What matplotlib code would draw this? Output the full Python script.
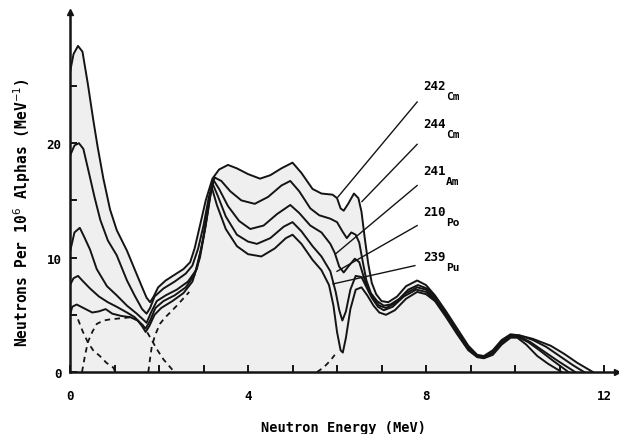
import matplotlib.pyplot as plt

# Neutron spectra from (alpha, n) sources, per 10^6 alphas
e_cm242 = [0.00, 0.08, 0.18, 0.28, 0.40, 0.52, 0.62, 0.75, 0.90, 1.05, 1.28, 1.45, 1.60, 1.72, 1.80,
           1.88, 1.98, 2.15, 2.35, 2.55, 2.70, 2.80, 2.92, 3.05, 3.20, 3.35, 3.55, 3.75, 4.00, 4.27,
           4.50, 4.75, 5.00, 5.20, 5.45, 5.65, 5.90, 6.00, 6.08, 6.15, 6.25, 6.38, 6.48, 6.55, 6.62,
           6.70, 6.78, 6.88, 7.00, 7.15, 7.35, 7.55, 7.80, 8.00, 8.20, 8.45, 8.70, 8.95, 9.15, 9.30,
           9.50, 9.70, 9.90, 10.10, 10.40, 10.80, 11.10, 11.40, 11.75]
y_cm242 = [26.2, 27.8, 28.5, 28.0, 25.2, 22.1, 19.7, 16.9, 14.2, 12.4, 10.6, 9.0, 7.6, 6.5, 6.1,
           6.6, 7.4, 8.0, 8.5, 9.0, 9.6, 10.8, 12.8, 15.0, 16.9, 17.7, 18.1, 17.8, 17.3, 16.9,
           17.2, 17.8, 18.3, 17.4, 16.0, 15.6, 15.5, 15.2, 14.3, 14.1, 14.7, 15.6, 15.2, 14.0, 11.8,
           9.5, 7.8, 6.8, 6.2, 6.1, 6.6, 7.5, 8.0, 7.6, 6.7, 5.3, 3.8, 2.3, 1.5, 1.4,
           1.9, 2.8, 3.3, 3.2, 2.9, 2.3, 1.6, 0.8, 0.0]

e_cm244 = [0.00, 0.10, 0.20, 0.30, 0.42, 0.55, 0.68, 0.85, 1.05, 1.28, 1.45, 1.62, 1.72, 1.80, 1.90,
           2.10, 2.35, 2.60, 2.75, 2.88, 3.00, 3.12, 3.25, 3.40, 3.60, 3.85, 4.15, 4.45, 4.75, 4.95,
           5.15, 5.40, 5.60, 5.85, 6.00, 6.12, 6.22, 6.32, 6.42, 6.50, 6.58, 6.66, 6.76, 6.90, 7.05,
           7.20, 7.40, 7.60, 7.82, 8.02, 8.22, 8.45, 8.70, 8.95, 9.15, 9.30, 9.50, 9.70, 9.90, 10.10,
           10.40, 10.70, 11.00, 11.30, 11.55]
y_cm244 = [18.9, 19.8, 20.0, 19.5, 17.5, 15.3, 13.3, 11.5, 10.2, 8.0, 6.7, 5.5, 5.1, 5.6, 6.6,
           7.3, 7.9, 8.6, 9.3, 10.8, 12.8, 15.3, 17.0, 16.7, 15.8, 15.0, 14.7, 15.3, 16.3, 16.7,
           15.8, 14.3, 13.7, 13.4, 13.1, 12.3, 11.7, 12.2, 12.0, 11.3, 9.6, 8.0, 6.9, 6.2, 5.8,
           5.9, 6.4, 7.2, 7.6, 7.3, 6.5, 5.1, 3.6, 2.2, 1.45, 1.35, 1.8, 2.7, 3.2, 3.2,
           2.8, 2.2, 1.4, 0.6, 0.0]

e_am241 = [0.00, 0.10, 0.22, 0.32, 0.45, 0.60, 0.83, 1.05, 1.28, 1.50, 1.64, 1.72, 1.82, 1.95, 2.15,
           2.40, 2.65, 2.85, 3.00, 3.12, 3.22, 3.35, 3.55, 3.80, 4.05, 4.35, 4.65, 4.95, 5.15, 5.40,
           5.65, 5.85, 5.95, 6.05, 6.15, 6.27, 6.40, 6.50, 6.60, 6.70, 6.82, 6.95, 7.10, 7.30, 7.55,
           7.80, 8.00, 8.20, 8.45, 8.70, 8.95, 9.15, 9.30, 9.50, 9.70, 9.90, 10.10, 10.35, 10.65, 10.95,
           11.35]
y_am241 = [10.5, 12.2, 12.6, 11.8, 10.7, 9.0, 7.5, 6.7, 5.8, 5.1, 4.6, 4.3, 5.2, 6.2, 6.7,
           7.2, 7.9, 9.0, 11.8, 14.9, 16.8, 16.0, 14.5, 13.2, 12.5, 12.8, 13.8, 14.6, 13.9, 12.8,
           12.2, 11.2, 10.4, 9.2, 8.7, 9.3, 9.9, 9.6, 8.3, 7.2, 6.4, 5.8, 5.6, 6.0, 6.9,
           7.4, 7.2, 6.4, 5.0, 3.5, 2.1, 1.4, 1.3, 1.7, 2.6, 3.2, 3.1, 2.6, 1.8, 1.0,
           0.0]

e_po210 = [0.00, 0.08, 0.18, 0.30, 0.45, 0.65, 0.85, 1.05, 1.28, 1.45, 1.58, 1.70, 1.80, 1.92, 2.10,
           2.35, 2.60, 2.80, 2.95, 3.08, 3.20, 3.32, 3.50, 3.75, 4.00, 4.20, 4.50, 4.80, 5.00, 5.20,
           5.45, 5.65, 5.85, 5.97, 6.05, 6.12, 6.20, 6.30, 6.42, 6.55, 6.65, 6.78, 6.92, 7.05, 7.25,
           7.50, 7.78, 8.00, 8.20, 8.45, 8.70, 8.95, 9.15, 9.30, 9.50, 9.70, 9.90, 10.05, 10.30, 10.55,
           10.85, 11.20]
y_po210 = [7.6, 8.2, 8.4, 7.9, 7.3, 6.6, 6.1, 5.7, 5.2, 4.8, 4.3, 3.8, 4.5, 5.6, 6.2,
           6.7, 7.4, 8.5, 10.8, 13.6, 16.5, 15.4, 13.6, 12.0, 11.4, 11.2, 11.7, 12.7, 13.1, 12.3,
           11.0, 10.1, 8.8, 7.0, 5.4, 4.5, 5.3, 7.2, 8.4, 8.3, 7.5, 6.5, 5.7, 5.4, 5.7,
           6.6, 7.2, 7.0, 6.3, 4.9, 3.4, 2.0, 1.35, 1.25, 1.6, 2.5, 3.1, 3.1, 2.6, 1.9,
           1.0, 0.0]

e_pu239 = [0.00, 0.05, 0.15, 0.30, 0.50, 0.65, 0.80, 0.95, 1.15, 1.35, 1.52, 1.62, 1.70, 1.78, 1.90,
           2.05, 2.30, 2.55, 2.75, 2.92, 3.05, 3.18, 3.30, 3.50, 3.75, 4.00, 4.30, 4.60, 4.85, 5.00,
           5.20, 5.45, 5.65, 5.82, 5.92, 6.00, 6.08, 6.13, 6.20, 6.30, 6.42, 6.55, 6.68, 6.82, 6.95,
           7.10, 7.30, 7.55, 7.80, 8.00, 8.20, 8.45, 8.70, 8.95, 9.15, 9.30, 9.50, 9.70, 9.90, 10.05,
           10.25, 10.50, 10.75, 11.05]
y_pu239 = [5.0, 5.7, 5.9, 5.6, 5.2, 5.3, 5.5, 5.1, 4.9, 4.8, 4.5, 4.0, 3.5, 4.0, 5.0,
           5.6, 6.2, 6.9, 7.9, 10.0, 12.8, 16.2, 14.6, 12.5, 11.0, 10.3, 10.1, 10.8, 11.7, 12.0,
           11.2, 9.8, 8.9, 7.6, 5.8, 3.5, 1.9, 1.7, 3.0, 5.5, 7.2, 7.4, 6.7, 5.8, 5.2,
           5.0, 5.4, 6.4, 7.0, 6.8, 6.2, 4.8, 3.3, 1.9, 1.3, 1.2, 1.5, 2.4, 3.0, 3.0,
           2.4, 1.4, 0.7, 0.0]

# dashed partial components
e_d1 = [0.18, 0.28, 0.40, 0.52, 0.67, 0.82, 0.97, 1.02]
y_d1 = [4.6, 3.6, 2.6, 1.9, 1.4, 0.8, 0.4, 0.0]
e_d2 = [0.27, 0.33, 0.40, 0.50, 0.60, 0.75, 0.90, 1.15, 1.40, 1.60, 1.73, 1.85, 1.95, 2.10, 2.30]
y_d2 = [0.0, 1.3, 2.6, 3.5, 4.2, 4.5, 4.6, 4.7, 4.8, 4.3, 3.5, 2.7, 2.0, 1.1, 0.2]
e_d3 = [1.76, 1.80, 1.84, 1.92, 2.02, 2.12, 2.25, 2.40, 2.54, 2.68]
y_d3 = [0.0, 1.2, 2.3, 3.3, 4.2, 4.7, 5.2, 5.8, 6.4, 7.0]
e_d4 = [5.55, 5.70, 5.85, 5.95]
y_d4 = [0.0, 0.4, 1.0, 1.5]

names = ['242', '244', '241', '210', '239']
elements = ['Cm', 'Cm', 'Am', 'Po', 'Pu']
label_y = [25.0, 21.7, 17.6, 14.0, 10.1]
# leader lines: (label end x, label end y, curve end x, curve end y)
leaders = [(7.80, 23.6, 6.02, 15.3),
           (7.80, 19.9, 6.56, 14.9),
           (7.80, 16.3, 5.96, 10.3),
           (7.80, 12.8, 6.00, 8.8),
           (7.75, 9.3, 5.91, 7.7)]

font = {'family': 'DejaVu Sans Mono', 'weight': 'bold'}
ink = '#141414'

fig = plt.figure(figsize=(6.19, 4.35), dpi=100)
ax = fig.add_axes([0.1131, 0.1425, 0.8843, 0.8285])
ax.set_xlim(0, 12.3)
ax.set_ylim(0, 31.5)

# faint shading under the envelope
ax.fill_between(e_cm242, y_cm242, 0, color='#efefef', lw=0, zorder=0)

for e, y in [(e_cm242, y_cm242), (e_cm244, y_cm244), (e_am241, y_am241),
             (e_po210, y_po210), (e_pu239, y_pu239)]:
    ax.plot(e, y, color=ink, lw=1.4, solid_joinstyle='round')

for e, y in [(e_d1, y_d1), (e_d2, y_d2), (e_d3, y_d3), (e_d4, y_d4)]:
    ax.plot(e, y, color=ink, lw=1.3, ls=(0, (3, 2.5)))

for (x0, y0, x1, y1), n, el, ly in zip(leaders, names, elements, label_y):
    ax.plot([x0, x1], [y0, y1], color=ink, lw=1.0)
    ax.text(7.93, ly, n, fontdict=font, fontsize=9, va='center', ha='left')
    ax.text(8.45, ly - 0.9, el, fontdict=font, fontsize=8, va='center', ha='left')

for s in ['top', 'right']:
    ax.spines[s].set_visible(False)
for s in ['left', 'bottom']:
    ax.spines[s].set_linewidth(1.8)
    ax.spines[s].set_color(ink)
ax.plot(1, 0, '>', color=ink, ms=5, transform=ax.transAxes, clip_on=False)
ax.plot(0, 1, '^', color=ink, ms=5, transform=ax.transAxes, clip_on=False)

ax.set_xticks([0, 4, 8, 12])
ax.set_xticks([1, 2, 3, 5, 6, 7, 9, 10, 11], minor=True)
ax.set_yticks([0, 10, 20])
ax.set_yticks([5, 15, 25], minor=True)
ax.tick_params(which='both', direction='in', length=5, width=1.4, color=ink)
ax.tick_params(axis='x', which='major', pad=12)
ax.tick_params(axis='y', which='major', pad=6)
for lab in ax.get_xticklabels() + ax.get_yticklabels():
    lab.set_fontfamily('DejaVu Sans Mono')
    lab.set_fontweight('bold')
    lab.set_fontsize(9)

ax.set_xlabel('Neutron Energy (MeV)', fontdict=font, fontsize=9.8, labelpad=13)
fig.text(22 / 619, 1 - 213 / 435, r'Neutrons Per 10$^6$ Alphas (MeV$^{-1}$)',
         fontdict=font, fontsize=10.5, rotation=90, ha='center', va='center')

fig.savefig('out.png', dpi=100)
